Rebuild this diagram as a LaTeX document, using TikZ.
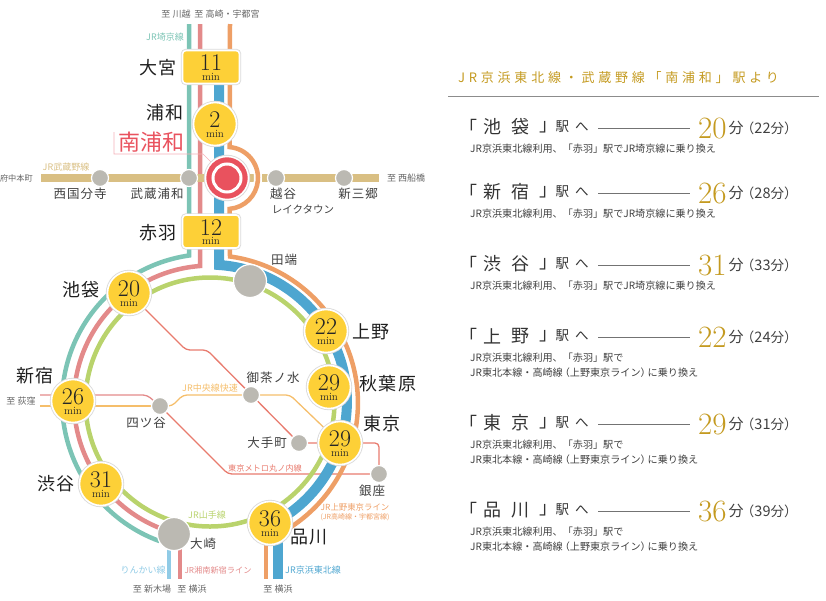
\documentclass[tikz,border=0pt]{standalone}
\usepackage{fontspec}
\usetikzlibrary{positioning,backgrounds}
\newfontfamily\jp{Noto Sans CJK JP}
\newfontfamily\jpwide[LetterSpace=8]{Noto Sans CJK JP}
\newfontfamily\jptitle[LetterSpace=29]{Noto Sans CJK JP}
\definecolor{tealline}{HTML}{7CC4B5}
\definecolor{redline}{HTML}{E38A8A}
\definecolor{blueline}{HTML}{4EA6D0}
\definecolor{skyline}{HTML}{90CBE6}
\definecolor{orangeline}{HTML}{EE9F66}
\definecolor{tanline}{HTML}{D9BF83}
\definecolor{greenline}{HTML}{B9D36C}
\definecolor{metroline}{HTML}{E87B6E}
\definecolor{chuoline}{HTML}{F5BE6B}
\definecolor{yellowstop}{HTML}{FDD037}
\definecolor{greystop}{HTML}{BBB9B2}
\definecolor{mainred}{HTML}{E9525E}
\definecolor{goldtext}{HTML}{C49A20}
\newcommand{\fs}[1]{\fontsize{#1}{#1}\selectfont}
\newcommand{\mins}[1]{\smash{\makebox[0pt]{\raisebox{-3.8pt}{\fs{24}#1}}\makebox[0pt]{\raisebox{-13pt}{\fs{11}min}}}}
\tikzset{
	halo/.style={preaction={draw=black!14, line width=3.4pt}},
	timecircle/.style={circle, fill=yellowstop, draw=white, line width=1.6pt, halo, minimum size=43pt, inner sep=0pt, align=center, text=black!85},
	timebox/.style={rectangle, rounded corners=3.5pt, fill=yellowstop, draw=white, line width=1.6pt, halo, minimum width=57pt, minimum height=33pt, inner sep=0pt, align=center, text=black!85},
	smallstop/.style={circle, fill=greystop, draw=white, line width=1.2pt, minimum size=17pt, inner sep=0pt},
	bigstop/.style={circle, fill=greystop, draw=white, line width=1.2pt, minimum size=33pt, inner sep=0pt},
	bigname/.style={inner sep=0pt, text=black!88, font=\jpwide\fs{18}},
	stopname/.style={inner sep=0pt, text=black!75, font=\jpwide\fs{12.5}},
	linename/.style={inner sep=0pt, font=\jp\fs{9}},
	toname/.style={inner sep=0pt, text=black!60, font=\jp\fs{9}},
	rail/.style={line width=#1, line cap=butt},
	thinrail/.style={line width=1.3pt, rounded corners=4pt},
}
\begin{document}
\begin{tikzpicture}[x=1pt,y=1pt]
	\useasboundingbox (0,-600) rectangle (826,0);
	
	%time stops
	\node[timebox] (omiya) at (211,-67) {\mins{11}};
	\node[timebox] (akabane) at (211,-231.5) {\mins{12}};
	\node[timecircle] (urawa) at (215,-124) {\mins{2}};
	\node[timecircle] (ikebukuro) at (129,-293) {\mins{20}};
	\node[timecircle] (ueno) at (326,-331) {\mins{22}};
	\node[timecircle] (akihabara) at (329,-387) {\mins{29}};
	\node[timecircle] (tokyo) at (340,-443) {\mins{29}};
	\node[timecircle] (shinjuku) at (73,-401) {\mins{26}};
	\node[timecircle] (shibuya) at (101,-484) {\mins{31}};
	\node[timecircle] (shinagawa) at (270,-523) {\mins{36}};
	
	%plain stops
	\node[bigstop] (tabata) at (250,-281) {};
	\node[bigstop] (osaki) at (174,-534) {};
	\node[smallstop] (yotsuya) at (160,-406) {};
	\node[smallstop] (ochanomizu) at (251,-395) {};
	\node[smallstop] (otemachi) at (299,-443) {};
	\node[smallstop] (ginza) at (379,-474) {};
	\node[smallstop] (kokubunji) at (100,-178) {};
	\node[smallstop] (musashi) at (189,-178) {};
	\node[smallstop] (koshigaya) at (276,-178) {};
	\node[smallstop] (misato) at (344,-178) {};
	
	%main stop
	\node[circle, fill=mainred, draw=white, line width=1.5pt, halo, minimum size=43pt, inner sep=0pt] (minamiurawa) at (227,-178) {};
	\node[circle, fill=mainred, draw=white, line width=3pt, minimum size=28pt, inner sep=0pt] (minamicore) at (227,-178) {};
	
	%stop names
	\node[bigname] (omiya-n) at (158,-68) {大宮};
	\node[bigname] (urawa-n) at (165,-113) {浦和};
	\node[inner sep=0pt, text=mainred, font=\jp\fs{22}] (minami-n) at (151,-142) {南浦和};
	\node[bigname] (akabane-n) at (158,-233) {赤羽};
	\node[bigname] (ikebukuro-n) at (81,-290) {池袋};
	\node[bigname] (ueno-n) at (371,-332) {上野};
	\node[bigname] (akihabara-n) at (388,-384) {秋葉原};
	\node[bigname] (tokyo-n) at (382,-424) {東京};
	\node[bigname] (shinjuku-n) at (35,-376) {新宿};
	\node[bigname] (shibuya-n) at (56,-484) {渋谷};
	\node[bigname] (shinagawa-n) at (309,-537) {品川};
	\node[stopname] (kokubunji-n) at (80,-194) {西国分寺};
	\node[stopname] (musashi-n) at (157,-194) {武蔵浦和};
	\node[stopname] (koshigaya-n) at (283,-194) {越谷};
	\node[stopname, font=\jp\fs{10.5}] (laketown-n) at (303,-209) {レイクタウン};
	\node[stopname] (misato-n) at (358,-194) {新三郷};
	\node[stopname] (tabata-n) at (284,-260) {田端};
	\node[stopname] (yotsuya-n) at (146,-423) {四ツ谷};
	\node[stopname] (ochanomizu-n) at (273,-378) {御茶ノ水};
	\node[stopname] (otemachi-n) at (267,-443) {大手町};
	\node[stopname] (ginza-n) at (372,-491) {銀座};
	\node[stopname] (osaki-n) at (203,-544) {大崎};
	
	%line names
	\node[linename, text=tealline] (saikyo-n) at (165,-37) {JR埼京線};
	\node[linename, text=tanline] (musashino-n) at (66,-167) {JR武蔵野線};
	\node[linename, text=chuoline] (chuo-n) at (210,-388) {JR中央線快速};
	\node[linename, text=metroline, font=\jp\fs{8.2}] (metro-n) at (265,-468) {東京メトロ丸ノ内線};
	\node[linename, text=greenline] (yamanote-n) at (207,-515) {JR山手線};
	\node[linename, text=orangeline, font=\jp\fs{8.4}] (ueno-l) at (355,-507) {JR上野東京ライン};
	\node[linename, text=orangeline, font=\jp\fs{7}] (ueno-s) at (355,-517) {(JR高崎線・宇都宮線)};
	\node[linename, text=skyline] (rinkai-n) at (143,-570) {りんかい線};
	\node[linename, text=redline, font=\jp\fs{8.2}] (shonan-n) at (218,-570) {JR湘南新宿ライン};
	\node[linename, text=blueline] (keihin-n) at (313,-570) {JR京浜東北線};
	
	%ends of lines
	\node[toname] (to-kawagoe) at (176,-14) {至 川越};
	\node[toname] (to-takasaki) at (227,-14) {至 高崎・宇都宮};
	\node[toname, anchor=east, font=\jp\fs{8.2}] (to-fuchu) at (33,-178) {府中本町};
	\node[toname, anchor=west] (to-funabashi) at (387,-178) {至 西船橋};
	\node[toname] (to-ogikubo) at (21,-401) {至 荻窪};
	\node[toname] (to-shinkiba) at (152,-589) {至 新木場};
	\node[toname] (to-yokohama) at (192,-589) {至 横浜};
	\node[toname] (to-yokohamab) at (278,-589) {至 横浜};
	
	\coordinate (ogikubo-a) at (40,-395);
	\coordinate (ogikubo-b) at (40,-406);
	\coordinate (musashino-a) at (41,-178);
	\coordinate (musashino-b) at (379,-178);
	
	\begin{pgfonlayer}{background}
	%thin lines
	\draw[thinrail, metroline] (ikebukuro) -- (186,-350) -- (207,-350) -- (otemachi);
	\draw[thinrail, metroline] (yotsuya) -- (228,-474) -- (ginza);
	\draw[thinrail, metroline] (otemachi) -- (tokyo) -- (379,-443) -- (ginza);
	\draw[thinrail, redline] (ogikubo-a) -- (147,-395) -- (yotsuya);
	\draw[thinrail, chuoline] (ogikubo-b) -- (yotsuya);
	\draw[thinrail, chuoline] (yotsuya) -- (172,-406) -- (183,-395) -- (290,-395) -- (tokyo);
	
	%main lines
	\draw[rail=4.5pt, tealline] (189,-24) -- (189,-255.5) arc[start angle=98.2, end angle=250, radius=148];
	\draw[rail=4.5pt, redline] (200,-24) -- (200,-266) arc[start angle=94.2, end angle=252, radius=136];
	\draw[rail=10pt, blueline] (219,-85) -- (219,-265) arc[start angle=86.2, end angle=-64, radius=137];
	\draw[rail=10pt, blueline] (278,-523) -- (278,-579);
	\draw[rail=4.5pt, greenline] (210,-402) circle (124.5);
	\draw[rail=4.5pt, redline] (180,-534) -- (180,-579);
	\draw[rail=4.5pt, skyline] (169,-534) -- (169,-579);
	\draw[rail=8pt, tanline] (musashino-a) -- (musashino-b);
	\draw[white, line width=8pt] (229.7,-147.1) arc[start angle=85, end angle=-85, radius=31];
	\draw[rail=4.5pt, orangeline] (230,-24) -- (229.7,-147.1) arc[start angle=85, end angle=-85, radius=31] -- (230,-256.5) arc[start angle=82.2, end angle=-58, radius=148];
	\draw[rail=4.5pt, orangeline] (266,-523) -- (266,-579);
	
	%callout of the main stop
	\draw[line width=0.7pt, mainred!45] (114,-132) -- (114,-154) -- (203,-154) -- (minamiurawa);
	\end{pgfonlayer}
	
	%right panel
	\node[anchor=west, inner sep=0pt, text=goldtext, font=\jptitle\fs{13}] (title) at (458,-78) {JR京浜東北線・武蔵野線「南浦和」駅より};
	\coordinate (rule-a) at (448,-96);
	\coordinate (rule-b) at (819,-96);
	\draw[line width=0.8pt, black!45] (rule-a) -- (rule-b);
	
	\foreach \i/\y/\namea/\nameb/\tmin/\talt/\via in {
		1/127/池/袋/20/22/{JR京浜東北線利用、「赤羽」駅でJR埼京線に乗り換え},
		2/192/新/宿/26/28/{JR京浜東北線利用、「赤羽」駅でJR埼京線に乗り換え},
		3/264/渋/谷/31/33/{JR京浜東北線利用、「赤羽」駅でJR埼京線に乗り換え},
		4/336/上/野/22/24/{JR京浜東北線利用、「赤羽」駅で\\JR東北本線・高崎線\hspace{-3pt}（上野東京ライン）\hspace{-3pt}に乗り換え},
		5/423/東/京/29/31/{JR京浜東北線利用、「赤羽」駅で\\JR東北本線・高崎線\hspace{-3pt}（上野東京ライン）\hspace{-3pt}に乗り換え},
		6/510/品/川/36/39/{JR京浜東北線利用、「赤羽」駅で\\JR東北本線・高崎線\hspace{-3pt}（上野東京ライン）\hspace{-3pt}に乗り換え}}{
		\node[inner sep=0pt, text=black!80, font=\jp\fs{18}] (open\i) at (468,-\y) {「};
		\node[inner sep=0pt, text=black!80, font=\jp\fs{18}] (first\i) at (492,-\y) {\namea};
		\node[inner sep=0pt, text=black!80, font=\jp\fs{18}] (second\i) at (520,-\y) {\nameb};
		\node[inner sep=0pt, text=black!80, font=\jp\fs{18}] (close\i) at (548,-\y) {」};
		\node[inner sep=0pt, text=black!80, font=\jp\fs{13.5}] (to\i) at (572,-\y) {駅\hspace{6pt}へ};
		\coordinate (lineb\i) at (598,-\y-1);
		\coordinate (linee\i) at (690,-\y-1);
		\draw[line width=0.8pt, black!55] (lineb\i) -- (linee\i);
		\node[anchor=west, inner sep=0pt, text=goldtext, font=\fs{31}] (time\i) at (698,-\y-1) {\tmin};
		\node[right=1.5pt of time\i, inner sep=0pt, text=black!75, font=\jp\fs{15}] (fen\i) {分};
		\node[right=-3pt of fen\i, inner sep=0pt, text=black!75, font=\jp\fs{13.5}] (alt\i) {（{\fs{14.5}\talt}分）};
		\node[anchor=north west, inner sep=0pt, align=left, text=black!75, font=\jp\fontsize{10.1}{15}\selectfont] (via\i) at (470,-\y-17) {\via};
	}
\end{tikzpicture}
\end{document}
